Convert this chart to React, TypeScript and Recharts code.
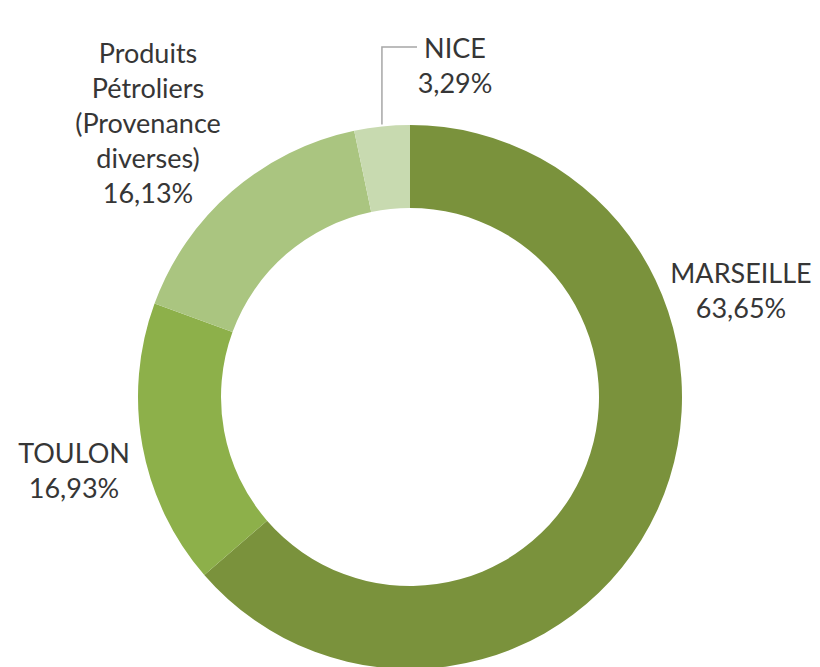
import React from 'react'
import { PieChart, Pie, Cell } from 'recharts'

const names = ['MARSEILLE', 'TOULON', 'Produits Pétroliers (Provenance diverses)', 'NICE']
const values = [63.65, 16.93, 16.13, 3.29]
const labelLines = [
  ['MARSEILLE', '63,65%'],
  ['TOULON', '16,93%'],
  ['Produits', 'Pétroliers', '(Provenance', 'diverses)', '16,13%'],
  ['NICE', '3,29%'],
]

const colors = ['#7a923c', '#8db04a', '#aac580', '#c8dab0']

// label anchors relative to the pie centre (first line centre), like Excel's dragged labels
const labelAnchor = [
  { dx: 331, dy: -125 },
  { dx: -336, dy: 55 },
  { dx: -262, dy: -345 },
  { dx: 45, dy: -350 },
]
const lineGap = 35

const data = names.map((n, i) => ({ name: n, value: values[i] }))

const RADIAN = Math.PI / 180

const renderLabel = (props: any) => {
  const { cx, cy, midAngle, outerRadius, index } = props
  const a = labelAnchor[index]
  const x = cx + a.dx
  const y = cy + a.dy
  const lines = labelLines[index]
  let leader = null
  if (index === 3) {
    const sx = cx + outerRadius * Math.cos(-midAngle * RADIAN)
    const sy = cy + outerRadius * Math.sin(-midAngle * RADIAN)
    leader = (
      <polyline
        points={`${sx},${sy - 2} ${sx},${y} ${x - 38},${y}`}
        fill="none"
        stroke="#a6a6a6"
        strokeWidth={1.5}
      />
    )
  }
  return (
    <g>
      {leader}
      {lines.map((t, i) => (
        <text
          key={i}
          x={x}
          y={y + i * lineGap}
          textAnchor="middle"
          dominantBaseline="central"
          fill="#363636"
          fontSize={27}
          fontFamily="Lato, 'Open Sans', sans-serif"
        >
          {t}
        </text>
      ))}
    </g>
  )
}

const App = () => {
  return (
    <div style={{ position: 'absolute', left: 0, top: 0, width: 820, height: 667, background: '#fff' }}>
      <PieChart width={820} height={667} margin={{ top: 0, right: 0, bottom: 0, left: 0 }}>
        <Pie
          data={data}
          dataKey="value"
          nameKey="name"
          cx={410}
          cy={397}
          outerRadius={272}
          innerRadius={189}
          startAngle={90}
          endAngle={-270}
          stroke="none"
          label={renderLabel}
          labelLine={false}
          isAnimationActive={false}
        >
          {data.map((d, i) => (
            <Cell key={d.name} fill={colors[i]} />
          ))}
        </Pie>
      </PieChart>
    </div>
  )
}

export default App
